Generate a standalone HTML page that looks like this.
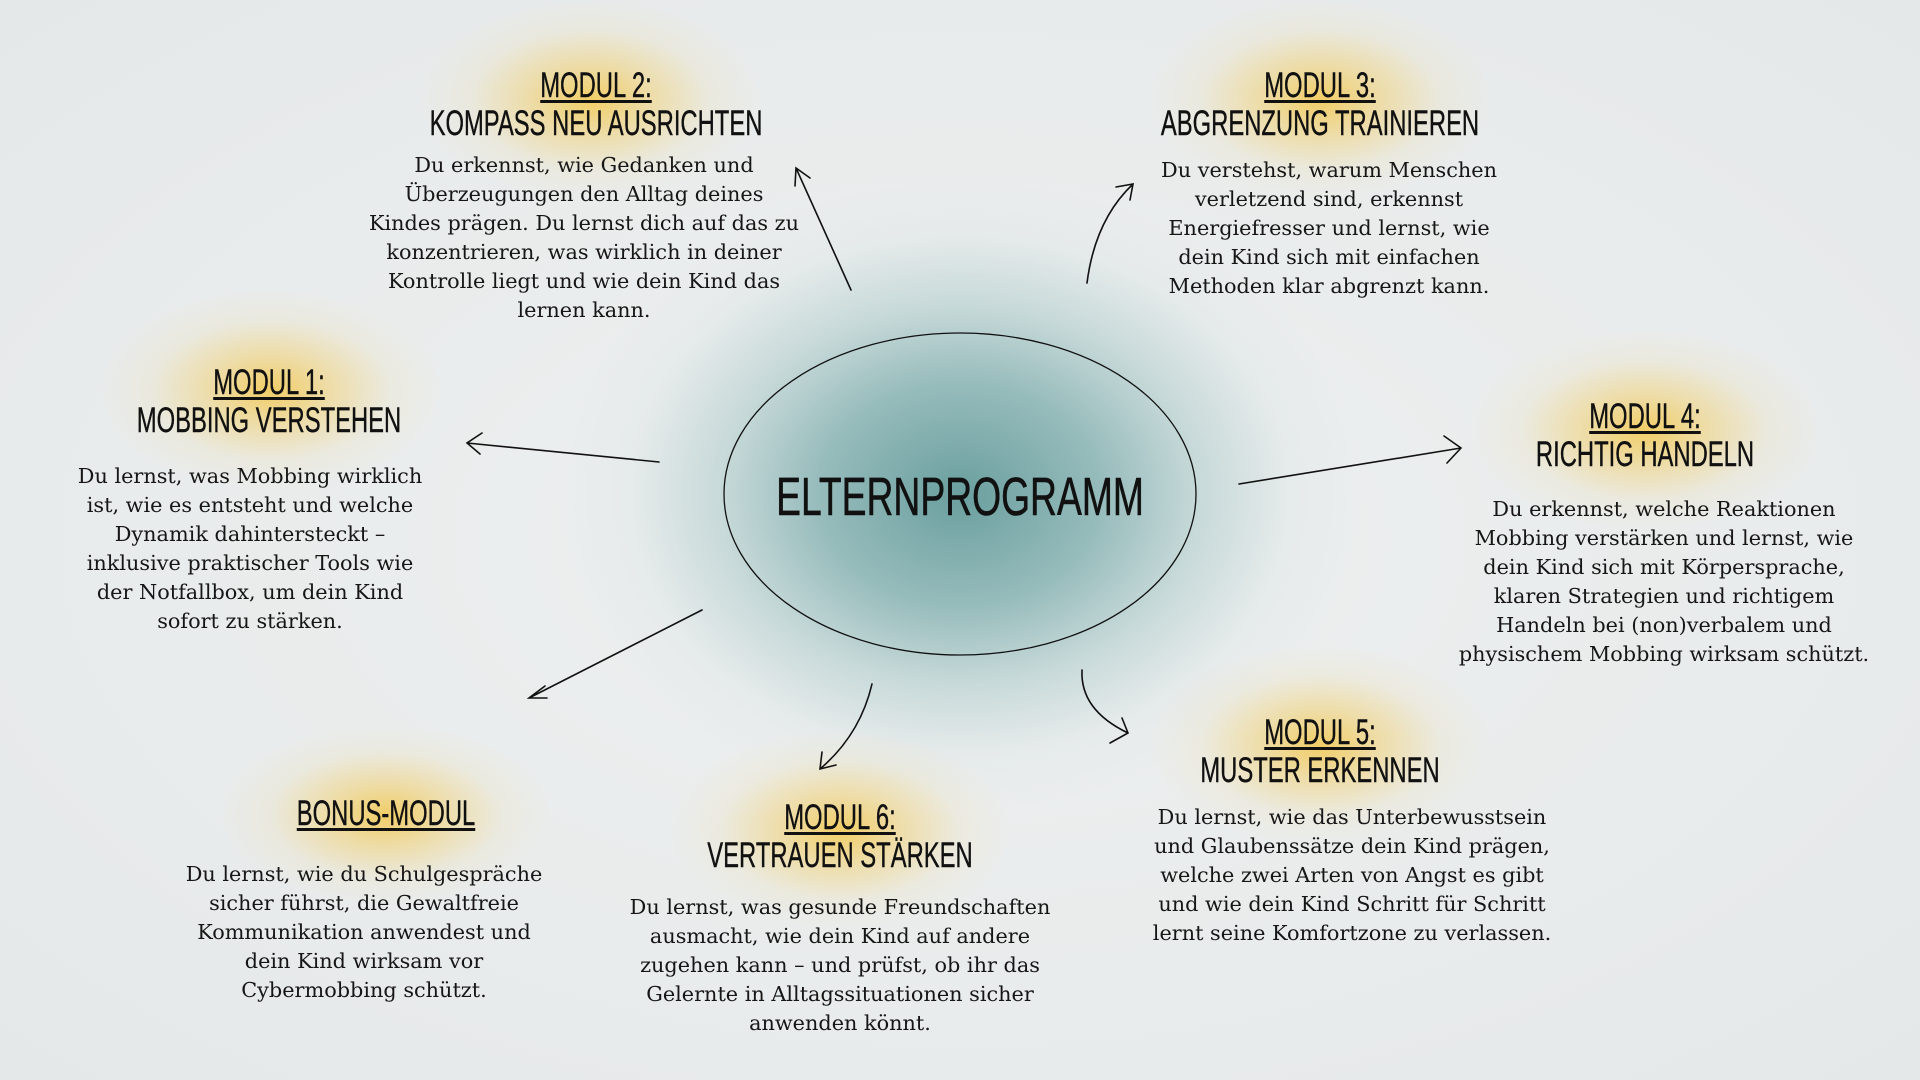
<!DOCTYPE html>
<html><head><meta charset="utf-8"><style>
body{margin:0;width:1920px;height:1080px;overflow:hidden;position:relative;
background:radial-gradient(ellipse at 50% 50%,#eef0f0 0%,#e8ebeb 70%,#e4e8e8 100%);}
.glow{position:absolute;border-radius:50%;background:radial-gradient(closest-side,rgba(242,200,80,.85) 0%,rgba(242,205,100,.5) 35%,rgba(240,220,160,.18) 70%,rgba(236,236,230,0) 100%);}
.t{position:absolute;text-align:center;font-family:"Liberation Sans",sans-serif;font-size:35px;line-height:38px;color:#111;white-space:nowrap;transform:translateX(-50%) scaleX(.68);-webkit-text-stroke:.4px #111;}
.t u{text-decoration-thickness:3px;text-underline-offset:3px;}
.b{position:absolute;text-align:center;font-family:"DejaVu Serif",serif;font-size:20.8px;line-height:29px;color:#161616;white-space:nowrap;transform:translateX(-50%);}
</style></head><body>
<div style="position:absolute;left:560px;top:180px;width:800px;height:630px;border-radius:50%;background:radial-gradient(closest-side,rgba(100,155,155,.95) 0%,rgba(135,178,178,.85) 35%,rgba(175,203,203,.6) 60%,rgba(215,226,226,.3) 82%,rgba(232,236,236,0) 100%);"></div>
<div class="glow" style="left:420px;top:0px;width:340px;height:200px"></div>
<div class="glow" style="left:1150px;top:0px;width:340px;height:200px"></div>
<div class="glow" style="left:100px;top:290px;width:340px;height:200px"></div>
<div class="glow" style="left:1470px;top:330px;width:350px;height:200px"></div>
<div class="glow" style="left:1150px;top:645px;width:340px;height:200px"></div>
<div class="glow" style="left:670px;top:730px;width:340px;height:200px"></div>
<div class="glow" style="left:220px;top:725px;width:330px;height:180px"></div>
<svg width="1920" height="1080" style="position:absolute;left:0;top:0" fill="none" stroke="#111" stroke-width="1.6" stroke-linecap="round">
<ellipse cx="960" cy="494" rx="236" ry="161" stroke-width="1.3"/>
<path d="M659 462 L467 443 M482 433 L467 443 L480 454"/>
<path d="M851 290 L796 168 M795 186 L796 168 L810 178"/>
<path d="M1087 283 Q1095 220 1133 184 M1116 187 L1133 184 L1130 200"/>
<path d="M1239 484 L1461 448 M1444 436 L1461 448 L1447 463"/>
<path d="M1082 670 Q1080 710 1128 733 M1122 718 L1128 733 L1110 743"/>
<path d="M872 684 Q860 735 820 769 M822 752 L820 769 L836 765"/>
<path d="M702 610 L529 698 M545 686 L529 698 L547 698"/>
</svg>
<div style="position:absolute;left:960px;top:470px;font-family:'Liberation Sans',sans-serif;font-size:54px;line-height:54px;color:#111;white-space:nowrap;transform:translateX(-50%) scaleX(.69);-webkit-text-stroke:.6px #111;">ELTERNPROGRAMM</div>

<div class="t" style="left:596px;top:67px"><u>MODUL 2:</u><br>KOMPASS NEU AUSRICHTEN</div>
<div class="b" style="left:584px;top:151px">Du erkennst, wie Gedanken und<br>Überzeugungen den Alltag deines<br>Kindes prägen. Du lernst dich auf das zu<br>konzentrieren, was wirklich in deiner<br>Kontrolle liegt und wie dein Kind das<br>lernen kann.</div>

<div class="t" style="left:1320px;top:67px"><u>MODUL 3:</u><br>ABGRENZUNG TRAINIEREN</div>
<div class="b" style="left:1329px;top:156px">Du verstehst, warum Menschen<br>verletzend sind, erkennst<br>Energiefresser und lernst, wie<br>dein Kind sich mit einfachen<br>Methoden klar abgrenzt kann.</div>

<div class="t" style="left:269px;top:364px"><u>MODUL 1:</u><br>MOBBING VERSTEHEN</div>
<div class="b" style="left:250px;top:462px">Du lernst, was Mobbing wirklich<br>ist, wie es entsteht und welche<br>Dynamik dahintersteckt –<br>inklusive praktischer Tools wie<br>der Notfallbox, um dein Kind<br>sofort zu stärken.</div>

<div class="t" style="left:1645px;top:398px"><u>MODUL 4:</u><br>RICHTIG HANDELN</div>
<div class="b" style="left:1664px;top:495px">Du erkennst, welche Reaktionen<br>Mobbing verstärken und lernst, wie<br>dein Kind sich mit Körpersprache,<br>klaren Strategien und richtigem<br>Handeln bei (non)verbalem und<br>physischem Mobbing wirksam schützt.</div>

<div class="t" style="left:1320px;top:714px"><u>MODUL 5:</u><br>MUSTER ERKENNEN</div>
<div class="b" style="left:1352px;top:803px">Du lernst, wie das Unterbewusstsein<br>und Glaubenssätze dein Kind prägen,<br>welche zwei Arten von Angst es gibt<br>und wie dein Kind Schritt für Schritt<br>lernt seine Komfortzone zu verlassen.</div>

<div class="t" style="left:840px;top:799px"><u>MODUL 6:</u><br>VERTRAUEN STÄRKEN</div>
<div class="b" style="left:840px;top:893px">Du lernst, was gesunde Freundschaften<br>ausmacht, wie dein Kind auf andere<br>zugehen kann – und prüfst, ob ihr das<br>Gelernte in Alltagssituationen sicher<br>anwenden könnt.</div>

<div class="t" style="left:386px;top:795px"><u>BONUS-MODUL</u></div>
<div class="b" style="left:364px;top:860px">Du lernst, wie du Schulgespräche<br>sicher führst, die Gewaltfreie<br>Kommunikation anwendest und<br>dein Kind wirksam vor<br>Cybermobbing schützt.</div>
</body></html>
